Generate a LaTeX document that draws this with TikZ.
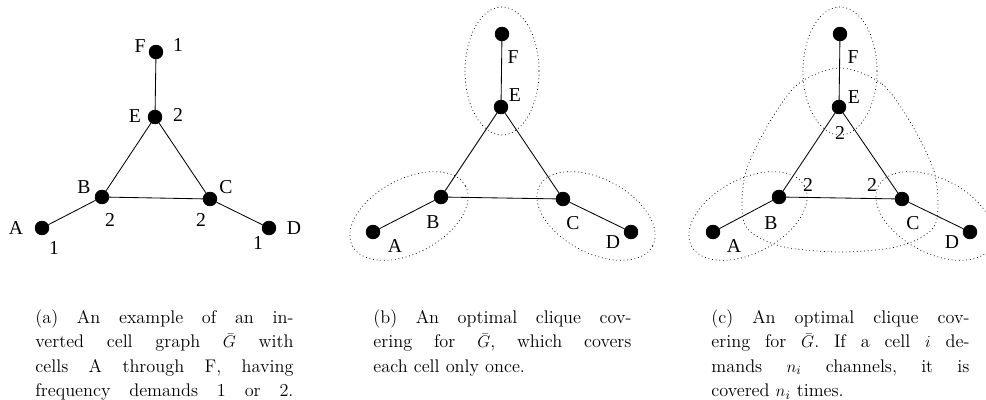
\documentclass[tikz,border=0pt]{standalone}
\usepackage{fontspec}
\newfontfamily\lblfont{Liberation Serif}
\newcommand{\capfont}{\fontsize{13}{17.4}\selectfont}
\newcommand{\capline}[1]{\hbox to 6.45cm{#1}}

\begin{document}
\begin{tikzpicture}[
    x=0.025cm, y=-0.025cm,
    cell/.style={circle, fill, draw, inner sep=0pt, minimum size=0.34cm},
    lbl/.style={font=\lblfont\fontsize{14}{16}\selectfont, inner sep=0pt},
    cover/.style={dotted, line width=0.5pt},
    capt/.style={font=\capfont, text width=6.45cm, inner sep=0pt, anchor=north west},
    every path/.style={line width=0.6pt}
]

\useasboundingbox (0,0) rectangle (986,400);

% ================= (a) : graphe inverse avec demandes =================

\node[cell] (aF) at (156,52)  {};
\node[cell] (aE) at (155,117) {};
\node[cell] (aB) at (102,197) {};
\node[cell] (aC) at (210,199) {};
\node[cell] (aA) at (42,228)  {};
\node[cell] (aD) at (269,228) {};

\draw (aF)--(aE);
\draw (aE)--(aB);
\draw (aE)--(aC);
\draw (aB)--(aC);
\draw (aA)--(aB);
\draw (aC)--(aD);

\node[lbl] (laF) at (140,46)  {F};
\node[lbl] (naF) at (178,45)  {1};
\node[lbl] (laE) at (135,116) {E};
\node[lbl] (naE) at (178,115) {2};
\node[lbl] (laB) at (84,187)  {B};
\node[lbl] (naB) at (110,220) {2};
\node[lbl] (laC) at (226,187) {C};
\node[lbl] (naC) at (201,220) {2};
\node[lbl] (laA) at (16,228)  {A};
\node[lbl] (naA) at (54,248)  {1};
\node[lbl] (laD) at (294,228) {D};
\node[lbl] (naD) at (258,243) {1};

% ================= (b) : couverture par cliques, une fois =================

\node[cell] (bF) at (502,34)  {};
\node[cell] (bE) at (501,107) {};
\node[cell] (bB) at (441,197) {};
\node[cell] (bC) at (563,199) {};
\node[cell] (bA) at (373,232) {};
\node[cell] (bD) at (631,232) {};

\draw (bF)--(bE);
\draw (bE)--(bB);
\draw (bE)--(bC);
\draw (bB)--(bC);
\draw (bA)--(bB);
\draw (bC)--(bD);

\node[lbl] (lbF) at (513,57)  {F};
\node[lbl] (lbE) at (515,95)  {E};
\node[lbl] (lbB) at (433,222) {B};
\node[lbl] (lbC) at (573,223) {C};
\node[lbl] (lbA) at (395,246) {A};
\node[lbl] (lbD) at (613,242) {D};

\draw[cover] (502,71) ellipse [x radius=37, y radius=64];
\draw[cover, rotate around={28:(409,216)}] (409,216) ellipse [x radius=64, y radius=37];
\draw[cover, rotate around={-28:(596,216)}] (596,216) ellipse [x radius=64, y radius=37];

% ================= (c) : couverture par cliques, n_i fois =================

\node[cell] (cF) at (840,34)  {};
\node[cell] (cE) at (839,107) {};
\node[cell] (cB) at (779,197) {};
\node[cell] (cC) at (902,199) {};
\node[cell] (cA) at (713,232) {};
\node[cell] (cD) at (970,232) {};

\draw (cF)--(cE);
\draw (cE)--(cB);
\draw (cE)--(cC);
\draw (cB)--(cC);
\draw (cA)--(cB);
\draw (cC)--(cD);

\node[lbl] (lcF) at (853,57)  {F};
\node[lbl] (lcE) at (854,97)  {E};
\node[lbl] (ncE) at (840,133) {2};
\node[lbl] (ncB) at (808,185) {2};
\node[lbl] (ncC) at (872,185) {2};
\node[lbl] (lcB) at (771,223) {B};
\node[lbl] (lcC) at (913,223) {C};
\node[lbl] (lcA) at (734,246) {A};
\node[lbl] (lcD) at (952,242) {D};

\draw[cover] (840,71) ellipse [x radius=37, y radius=64];
\draw[cover, rotate around={28:(748,216)}] (748,216) ellipse [x radius=64, y radius=37];
\draw[cover, rotate around={-28:(935,216)}] (935,216) ellipse [x radius=64, y radius=37];
\draw[cover] plot[smooth cycle] coordinates {
    (840,68) (882,84) (912,125) (935,175) (935,225) (900,246)
    (840,252) (780,246) (745,225) (745,175) (768,125) (798,84)};

% ================= Legendes =================

\node[capt] (capa) at (35,309) {%
    \capline{(a)\hfill An\hfill example\hfill of\hfill an\hfill in-}
    \capline{verted\hfill cell\hfill graph\hfill $\bar G$\hfill with}
    \capline{cells\hfill A\hfill through\hfill F,\hfill having}
    \capline{frequency\hfill demands\hfill 1\hfill or\hfill 2.}};

\node[capt] (capb) at (373,309) {%
    \capline{(b)\hfill An\hfill optimal\hfill clique\hfill cov-}
    \capline{ering\hfill for\hfill $\bar G$,\hfill which\hfill covers}
    \hbox{each cell only once.}};

\node[capt] (capc) at (711,309) {%
    \capline{(c)\hfill An\hfill optimal\hfill clique\hfill cov-}
    \capline{ering\hfill for\hfill $\bar G$.\hfill If\hfill a\hfill cell\hfill $i$\hfill de-}
    \capline{mands\hfill $n_i$\hfill channels,\hfill it\hfill is}
    \hbox{covered $n_i$ times.}};

\end{tikzpicture}
\end{document}
